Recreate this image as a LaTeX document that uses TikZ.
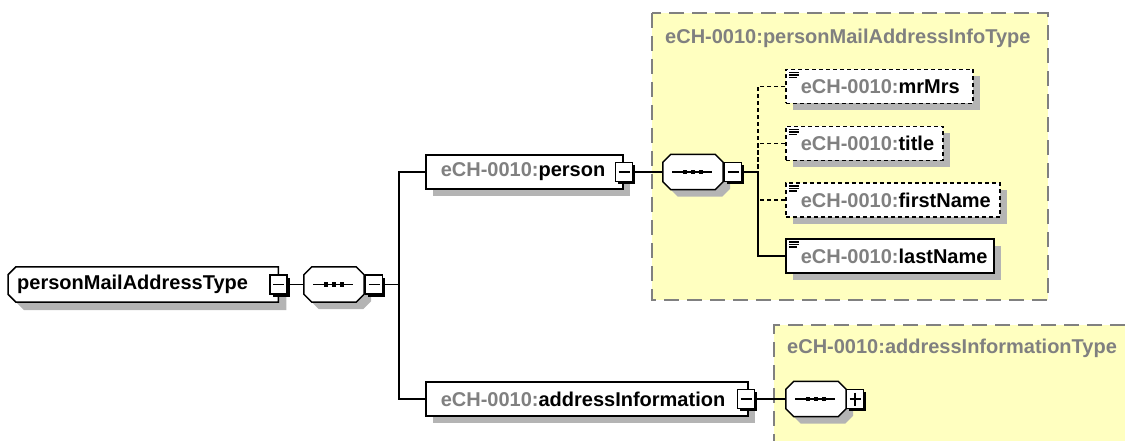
\documentclass[tikz,border=0pt]{standalone}
\usepackage{fontspec}
\setmainfont{Liberation Sans}
\usetikzlibrary{shadows}
\pgfdeclarelayer{hinten}
\pgfdeclarelayer{mitte}
\pgfsetlayers{hinten,mitte,main}
\definecolor{typgelb}{RGB}{255,255,192}
\definecolor{rahmengrau}{RGB}{128,128,128}
\definecolor{schatten}{RGB}{180,180,180}
\definecolor{nsgrau}{RGB}{128,128,128}
\newcommand{\schrift}{\fontsize{20}{24}\selectfont\bfseries}
\newcommand{\ech}[1]{\mbox{\textcolor{nsgrau}{eCH-0010:}#1}}
% Achteck um einen Knoten: #1 Knoten, #2 Stil, #3/#4 Versatz,
% #5/#6 Abschraegung links/rechts
\newcommand{\achteck}[6]{%
	\path[#2] ([xshift=#3+#5, yshift=#4]#1.north west)
		-- ([xshift=#3-#6, yshift=#4]#1.north east)
		-- ([xshift=#3, yshift=#4-#6]#1.north east)
		-- ([xshift=#3, yshift=#4+#6]#1.south east)
		-- ([xshift=#3-#6, yshift=#4]#1.south east)
		-- ([xshift=#3+#5, yshift=#4]#1.south west)
		-- ([xshift=#3, yshift=#4+#5]#1.south west)
		-- ([xshift=#3, yshift=#4-#5]#1.north west) -- cycle;}
\tikzset{
	linie/.style={line width=1.5pt},
	optional/.style={dash pattern=on 4pt off 3pt},
	schattig/.style={drop shadow={shadow xshift=7pt, shadow yshift=-7pt,
		fill=schatten, opacity=1}},
	element/.style={rectangle, draw, line width=1.5pt, fill=white, anchor=west,
		minimum height=34pt, inner xsep=15pt, inner ysep=0pt, align=left,
		font=\schrift, schattig},
	einfach/.style={path picture={
		\foreach \dy/\len in {3/10,5.5/10,8/8}
			\draw[solid, line width=1.1pt] ([xshift=3pt, yshift=-\dy pt]path
			picture bounding box.north west) -- ++(\len pt,0pt);}},
	wurzel/.style={rectangle, anchor=west, minimum height=35pt,
		inner xsep=9pt, inner ysep=0pt, align=left, font=\schrift},
	sequenz/.style={rectangle, minimum width=60pt, minimum height=35pt,
		inner sep=0pt},
	knopf/.style={rectangle, draw, line width=1.2pt, fill=white,
		minimum width=17pt, minimum height=19pt, inner sep=0pt,
		drop shadow={shadow xshift=2.5pt, shadow yshift=-2.5pt, fill=black,
		opacity=1}},
	knopfminus/.style={knopf, path picture={
		\draw[line width=1.2pt] ([xshift=3pt]path picture bounding box.west)
			-- ([xshift=-3pt]path picture bounding box.east);}},
	knopfplus/.style={knopf, path picture={
		\draw[line width=1.2pt] ([xshift=3pt]path picture bounding box.west)
			-- ([xshift=-3pt]path picture bounding box.east);
		\draw[line width=1.2pt] ([yshift=-3pt]path picture bounding box.north)
			-- ([yshift=3pt]path picture bounding box.south);}},
	typrand/.style={draw=rahmengrau, line width=1.5pt,
		dash pattern=on 15pt off 8pt},
	typtitel/.style={anchor=west, inner sep=0pt, font=\schrift, text=nsgrau}
}
\begin{document}
\begin{tikzpicture}[x=1pt, y=-1pt]
	\useasboundingbox (0,0) rectangle (1125,441);
	% Typen im Hintergrund
	\begin{pgfonlayer}{hinten}
		\fill[typgelb] (652,13) rectangle (1048,300);
		\draw[typrand] (652,13) rectangle (1048,300);
		\fill[typgelb] (774,325) rectangle (1125,441);
		\draw[typrand] (1125,325) -| (774,441);
	\end{pgfonlayer}
	\node[typtitel] (titelinfo) at (665,38) {eCH-0010:personMailAddressInfoType};
	\node[typtitel] (titeladdr) at (787,348) {eCH-0010:addressInformationType};
	% Wurzelelement
	\node[wurzel, text width=252pt] (root) at (8,284.5) {personMailAddressType};
	% Sequenzen
	\node[sequenz] (seq1) at (334,284.5) {};
	\node[sequenz] (seq2) at (693,172) {};
	\node[sequenz] (seq3) at (816,399) {};
	\begin{pgfonlayer}{mitte}
		\achteck{root}{fill=schatten}{8pt}{-8pt}{8pt}{0pt}
		\achteck{root}{draw, fill=white, linie}{0pt}{0pt}{8pt}{0pt}
		\foreach \s in {seq1,seq2,seq3} {
			\achteck{\s}{fill=schatten}{7pt}{-7pt}{8pt}{8pt}
			\achteck{\s}{draw, fill=white, linie}{0pt}{0pt}{8pt}{8pt}
		}
	\end{pgfonlayer}
	\foreach \s in {seq1,seq2,seq3} {
		\draw[line width=1.2pt] ([xshift=-21pt]\s.center)
			-- ([xshift=19pt]\s.center);
		\foreach \dx in {-8,0,8}
			\fill ([xshift=\dx pt]\s.center) ++(-2.2pt,-2.2pt) rectangle
			++(4.4pt,4.4pt);
	}
	% Elemente
	\node[element, text width=167pt] (person) at (425,172) {\ech{person}};
	\node[element, text width=292pt] (addrinfo) at (425,399)
		{\ech{addressInformation}};
	\node[element, einfach, optional, text width=157pt] (mrmrs) at (785,86.5)
		{\ech{mrMrs}};
	\node[element, einfach, optional, text width=127pt] (title) at (785,143.5)
		{\ech{title}};
	\node[element, einfach, optional, text width=184pt] (firstname) at (785,200)
		{\ech{firstName}};
	\node[element, einfach, text width=178pt] (lastname) at (785,256)
		{\ech{lastName}};
	% Knoepfe zum Auf- und Zuklappen
	\node[knopfminus] (kroot) at (278.5,284.5) {};
	\node[knopfminus] (kseq1) at (374,284.5) {};
	\node[knopfminus] (kperson) at (624,172) {};
	\node[knopfminus] (kseq2) at (733,172) {};
	\node[knopfminus] (kaddr) at (746,399) {};
	\node[knopfplus] (kseq3) at (855,399) {};
	% Verbindungen
	\coordinate (ast1) at (399,284.5);
	\coordinate (ast2) at (758,172);
	\draw[linie] (kroot) -- (seq1);
	\draw[linie] (kseq1) -- (ast1);
	\draw[linie] (person.west) -| (ast1) |- (addrinfo.west);
	\draw[linie] (kperson) -- (seq2);
	\draw[linie] (kseq2) -- (ast2);
	\draw[linie, optional] (mrmrs.west) -| (ast2);
	\draw[linie, optional] (title.west) -| (ast2);
	\draw[linie, optional] (firstname.west) -| (ast2);
	\draw[linie] (ast2) |- (lastname.west);
	\draw[linie] (kaddr) -- (seq3);
\end{tikzpicture}
\end{document}
